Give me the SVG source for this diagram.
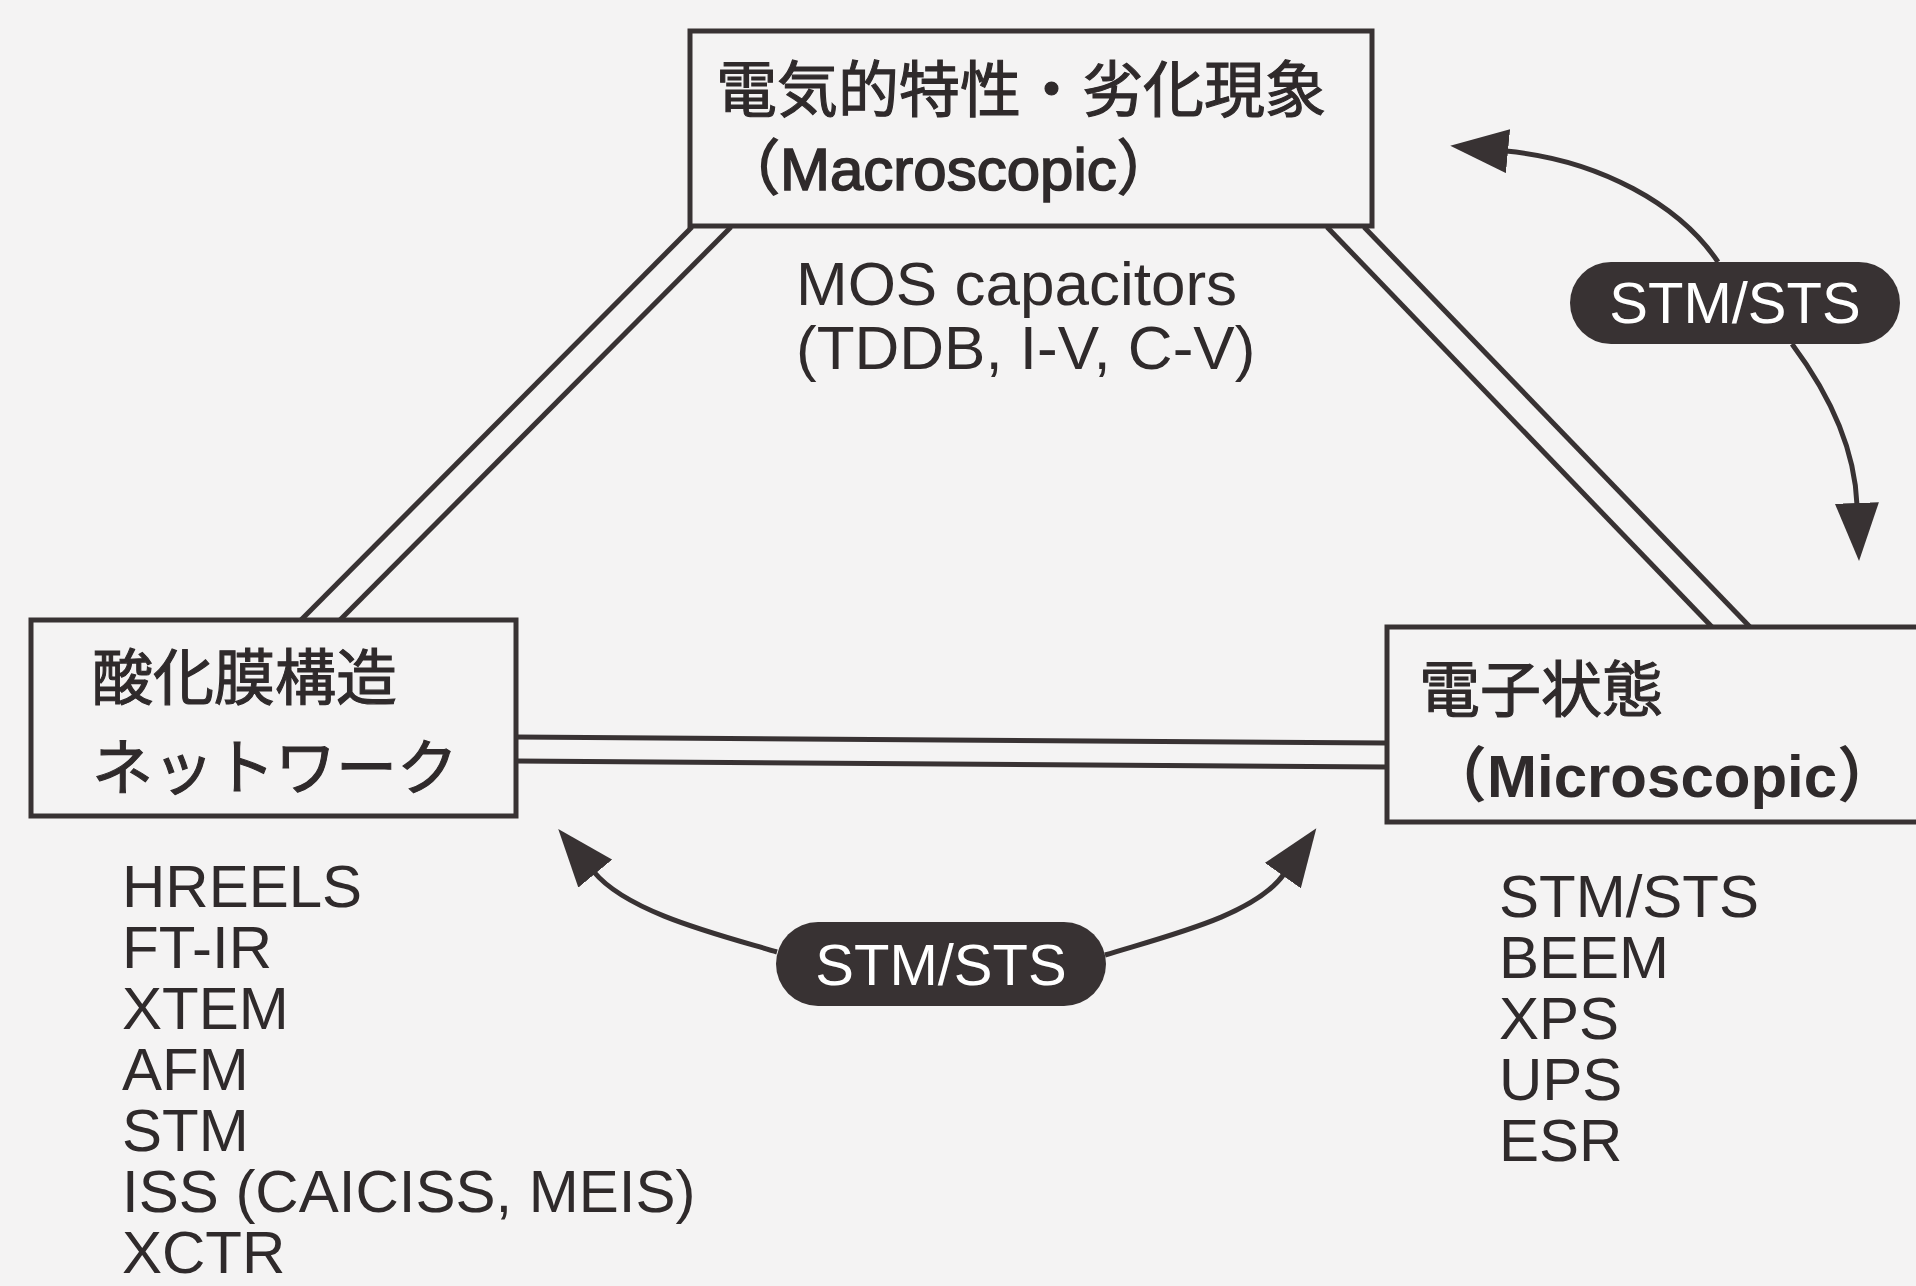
<svg xmlns="http://www.w3.org/2000/svg" width="1916" height="1286" viewBox="0 0 1916 1286">
<defs>
<style>
.box{fill:none;stroke:#383233;stroke-width:5}
.ln{fill:none;stroke:#383233;stroke-width:5}
.arr{fill:none;stroke:#383233;stroke-width:5}
.jp{font-family:"Noto Sans CJK JP","Liberation Sans",sans-serif;font-size:61px;fill:#2f2a2b;stroke:#2f2a2b;stroke-width:1.1}
.lat{font-family:"Liberation Sans","Noto Sans CJK JP",sans-serif;font-size:60px;font-weight:bold;fill:#2f2a2b}
.latm{font-family:"Liberation Sans","Noto Sans CJK JP",sans-serif;font-size:60px;fill:#2f2a2b;stroke:#2f2a2b;stroke-width:1.6}
.lst{font-family:"Liberation Sans",Arial,sans-serif;font-size:60px;fill:#2f2a2b}
.mos{font-family:"Liberation Sans",Arial,sans-serif;font-size:62px;fill:#2f2a2b}
.pill{fill:#383233}
.pt{font-family:"Liberation Sans",Arial,sans-serif;font-size:58px;fill:#ffffff;text-anchor:middle}
</style>
<marker id="ah" markerUnits="userSpaceOnUse" viewBox="0 0 58 44" markerWidth="58" markerHeight="44" refX="2" refY="22" orient="auto">
<path d="M0,0 L58,22 L0,44 Z" fill="#383233"/>
</marker>
</defs>
<rect width="1916" height="1286" fill="#f4f3f3"/>

<g id="connectors">
<line class="ln" x1="692" y1="227" x2="301" y2="620"/>
<line class="ln" x1="731" y1="227" x2="340" y2="620"/>
<line class="ln" x1="1327" y1="227" x2="1712" y2="627"/>
<line class="ln" x1="1364" y1="227" x2="1750" y2="627"/>
<line class="ln" x1="516" y1="737" x2="1387" y2="743"/>
<line class="ln" x1="516" y1="761" x2="1387" y2="767"/>
<path class="arr" d="M1718 262 C1680 205 1600 160 1506 151" marker-end="url(#ah)"/>
<path class="arr" d="M1792 344 C1830 395 1855 450 1857 505" marker-end="url(#ah)"/>
<path class="arr" d="M777 952 C720 935 628 913 594 872" marker-end="url(#ah)"/>
<path class="arr" d="M1105 955 C1170 935 1255 915 1284 874" marker-end="url(#ah)"/>
</g>

<g id="node-macro">
<rect class="box" x="690" y="31" width="682" height="195"/>
<text class="jp" x="716" y="112">電気的特性・劣化現象</text>
<text class="latm" x="720" y="190">（Macroscopic）</text>
</g>
<g id="note-macro" class="mos">
<text x="796" y="305">MOS capacitors</text>
<text x="796" y="369">(TDDB, I-V, C-V)</text>
</g>

<g id="node-oxide">
<rect class="box" x="31" y="620" width="485" height="196"/>
<text class="jp" x="92" y="700">酸化膜構造</text>
<text class="jp" x="92" y="790">ネットワーク</text>
</g>
<g id="list-oxide" class="lst">
<text x="122" y="907">HREELS</text>
<text x="122" y="968">FT-IR</text>
<text x="122" y="1029">XTEM</text>
<text x="122" y="1090">AFM</text>
<text x="122" y="1151">STM</text>
<text x="122" y="1212">ISS (CAICISS, MEIS)</text>
<text x="122" y="1273">XCTR</text>
</g>

<g id="node-micro">
<rect class="box" x="1387" y="627" width="600" height="195"/>
<text class="jp" x="1419" y="712">電子状態</text>
<text class="lat" x="1427" y="797">（Microscopic）</text>
</g>
<g id="list-micro" class="lst">
<text x="1499" y="917">STM/STS</text>
<text x="1499" y="978">BEEM</text>
<text x="1499" y="1039">XPS</text>
<text x="1499" y="1100">UPS</text>
<text x="1499" y="1161">ESR</text>
</g>

<g id="label-top">
<rect class="pill" x="1570" y="262" width="330" height="82" rx="41"/>
<text class="pt" x="1735" y="323">STM/STS</text>
</g>
<g id="label-bottom">
<rect class="pill" x="776" y="922" width="330" height="84" rx="42"/>
<text class="pt" x="941" y="985">STM/STS</text>
</g>
</svg>
